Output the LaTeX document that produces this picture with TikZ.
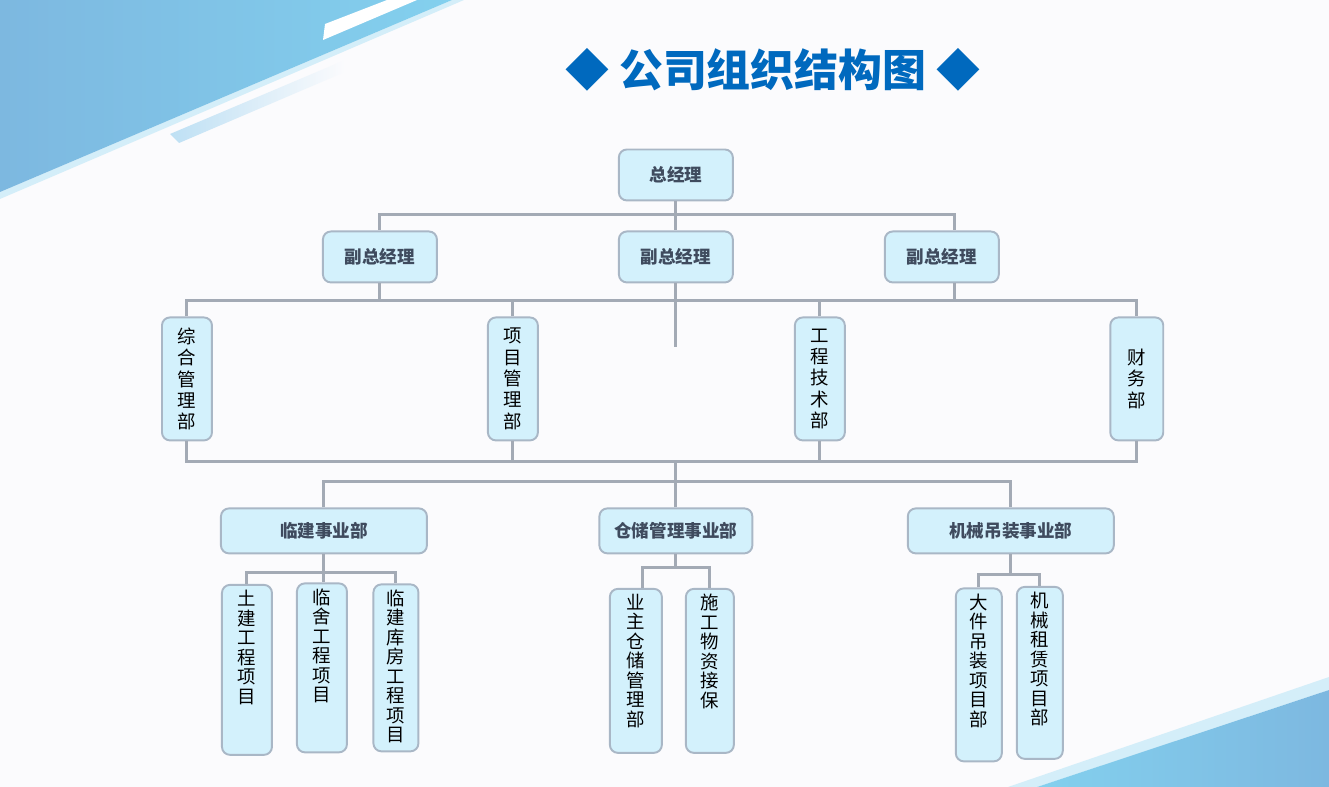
\documentclass[tikz,border=0pt]{standalone}
\usepackage{fontspec}
\newfontfamily\cjk{Noto Sans CJK SC}
\usetikzlibrary{shapes.geometric, arrows}
\definecolor{titleblue}{HTML}{0069BE}
\definecolor{boxfill}{HTML}{D3F1FC}
\definecolor{boxline}{HTML}{A9B7C6}
\definecolor{linkgray}{HTML}{A3AAB5}
\definecolor{txtdark}{HTML}{3F4B5E}
\definecolor{pagebg}{HTML}{FBFBFD}
\definecolor{skyleft}{HTML}{7DB8E0}
\definecolor{skyright}{HTML}{83D0EE}
\definecolor{edgelight}{HTML}{D4EEF9}
\definecolor{bandblue}{HTML}{BEE0F4}
\tikzstyle{topbox} = [rectangle, rounded corners=0.16cm, minimum width=2.28cm, minimum height=1.02cm, text centered, draw=boxline, line width=1.1pt, fill=boxfill, font=\cjk\bfseries\fontsize{10}{12}\selectfont, text=txtdark]
\tikzstyle{divbox} = [topbox, minimum width=4.12cm, minimum height=0.9cm]
\tikzstyle{deptbox} = [rectangle, rounded corners=0.16cm, minimum width=1cm, minimum height=2.46cm, align=center, draw=boxline, line width=1.1pt, fill=boxfill, font=\cjk\fontsize{10.5}{12.2}\selectfont, text=black]
\tikzstyle{projbox} = [deptbox, minimum height=3.4cm]
\tikzstyle{projtext} = [anchor=north, yshift=0cm, align=center, font=\cjk\fontsize{10.5}{11.1}\selectfont, text=black]
\tikzstyle{link} = [line width=1.7pt, draw=linkgray]

\begin{document}
\begin{tikzpicture}[node distance=1.64cm]

    \begin{scope}[x=0.02cm, y=-0.02cm]
        \fill [pagebg] (0,0) rectangle (1329,787);
        \fill [edgelight] (0,192) -- (452,0) -- (464,0) -- (0,199) -- cycle;
        \shade [left color=skyleft, right color=skyright] (0,0) -- (452,0) -- (0,192) -- cycle;
        \fill [white] (325,24) -- (387,0) -- (417,0) -- (323,40) -- cycle;
        \shade [left color=bandblue, right color=pagebg] (170,134) -- (345,60) -- (345,72) -- (179,143) -- cycle;
        \fill [edgelight] (1008,787) -- (1329,677) -- (1329,690) -- (1037,787) -- cycle;
        \shade [left color=skyright, right color=skyleft] (1037,787) -- (1329,690) -- (1329,787) -- cycle;
    \end{scope}
    \useasboundingbox (0,0) rectangle (26.58,-15.74);

    \node (title) [font=\cjk\bfseries\fontsize{25}{30}\selectfont, text=titleblue] at (15.46,-1.4) {◆ 公司组织结构图 ◆};

    \node (ceo) [topbox] at (13.52,-3.5) {总经理};
    \node (vp2) [topbox, below of=ceo] {副总经理};
    \node (vp1) [topbox, left of=vp2, xshift=-4.28cm] {副总经理};
    \node (vp3) [topbox, right of=vp2, xshift=3.68cm] {副总经理};

    \node (dep1) [deptbox, below of=vp1, xshift=-3.86cm, yshift=-0.8cm] {综\\合\\管\\理\\部};
    \node (dep2) [deptbox, below of=vp1, xshift=2.66cm, yshift=-0.8cm] {项\\目\\管\\理\\部};
    \node (dep3) [deptbox, below of=vp3, xshift=-2.44cm, yshift=-0.8cm] {工\\程\\技\\术\\部};
    \node (dep4) [deptbox, minimum width=1.06cm, below of=vp3, xshift=3.9cm, yshift=-0.8cm] {财\\务\\部};

    \node (div2) [divbox, minimum width=3.06cm, below of=vp2, yshift=-3.84cm] {仓储管理事业部};
    \node (div1) [divbox, left of=div2, xshift=-5.4cm] {临建事业部};
    \node (div3) [divbox, right of=div2, xshift=5.06cm] {机械吊装事业部};

    \node (p11) [projbox, below of=div1, xshift=-1.54cm, yshift=-1.14cm, label={[projtext]north:{土\\建\\工\\程\\项\\目}}] {};
    \node (p12) [projbox, minimum height=3.38cm, below of=div1, xshift=-0.04cm, yshift=-1.1cm, label={[projtext]north:{临\\舍\\工\\程\\项\\目}}] {};
    \node (p13) [projbox, minimum width=0.9cm, minimum height=3.34cm, below of=div1, xshift=1.44cm, yshift=-1.1cm, label={[projtext]north:{临\\建\\库\\房\\工\\程\\项\\目}}] {};
    \node (p21) [projbox, minimum width=1.04cm, minimum height=3.28cm, below of=div2, xshift=-0.8cm, yshift=-1.16cm, label={[projtext]north:{业\\主\\仓\\储\\管\\理\\部}}] {};
    \node (p22) [projbox, minimum width=0.96cm, minimum height=3.28cm, below of=div2, xshift=0.68cm, yshift=-1.16cm, label={[projtext]north:{施\\工\\物\\资\\接\\保}}] {};
    \node (p31) [projbox, minimum width=0.92cm, minimum height=3.46cm, below of=div3, xshift=-0.64cm, yshift=-1.24cm, label={[projtext]north:{大\\件\\吊\\装\\项\\目\\部}}] {};
    \node (p32) [projbox, minimum width=0.92cm, minimum height=3.44cm, below of=div3, xshift=0.58cm, yshift=-1.2cm, label={[projtext]north:{机\\械\\租\\赁\\项\\目\\部}}] {};

    \coordinate (bus2) at ([yshift=-0.34cm]vp1.south);
    \coordinate (bus3) at ([yshift=-0.4cm]dep1.south);
    \coordinate (bus4) at ([yshift=0.52cm]div2.north);

    \draw [link] (ceo) -- (vp2);
    \draw [link] (vp1) |- ([yshift=-0.26cm]ceo.south) -| ([xshift=0.26cm]vp3.north);

    \draw [link] (vp1) -- (bus2);
    \draw [link] (vp2) -- ([yshift=-1.28cm]vp2.south);
    \draw [link] ([xshift=0.26cm]vp3.south) -- ([xshift=0.26cm]vp3.south |- bus2);
    \draw [link] (dep1) |- (bus2) -| (dep4);
    \draw [link] (dep2) -- (dep2 |- bus2);
    \draw [link] (dep3) -- (dep3 |- bus2);

    \draw [link] (dep1) -- (bus3) -| (dep4);
    \draw [link] (dep2) -- (dep2 |- bus3);
    \draw [link] (dep3) -- (dep3 |- bus3);
    \draw [link] (div2) -- (div2 |- bus3);
    \draw [link] (div1) |- (bus4) -| (div3);

    \draw [link] (p11) |- ([yshift=-0.36cm]div1.south) -| (p13);
    \draw [link] (div1) -- (div1.south |- p12.north);
    \draw [link] ([xshift=0.14cm]p21.north) |- ([yshift=-0.26cm]div2.south) -| (p22);
    \draw [link] (div2) -- ([yshift=-0.26cm]div2.south);
    \draw [link] (p31) |- ([yshift=-0.4cm]div3.south) -| (p32);
    \draw [link] (div3) -- ([yshift=-0.4cm]div3.south);

\end{tikzpicture}
\end{document}
